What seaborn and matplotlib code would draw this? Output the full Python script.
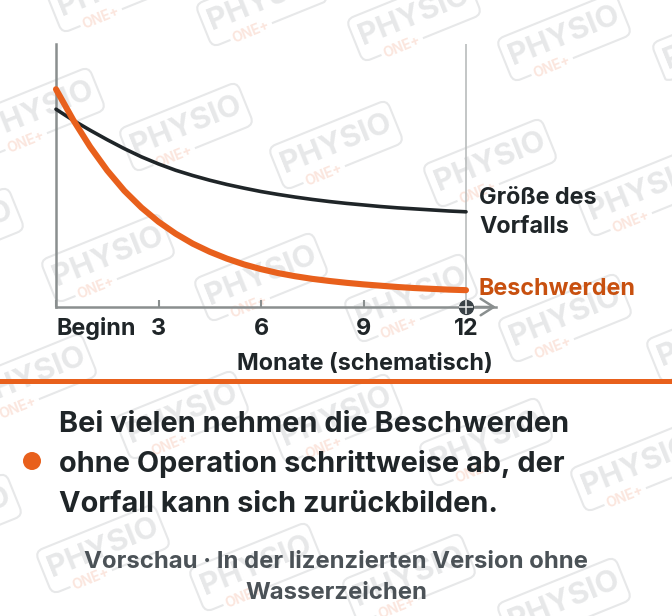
import matplotlib
matplotlib.use("Agg")
import matplotlib.pyplot as plt
import matplotlib.patches as patches
from matplotlib.transforms import Affine2D
import numpy as np
import pandas as pd
import seaborn as sns

W, H = 672, 616

# Curves (0 = baseline, 100 = top of the y axis)
months = [0, 0.5, 1, 1.5, 2, 2.5, 3, 3.5, 4, 4.5, 5, 5.5, 6, 6.5, 7, 7.5, 8, 8.5, 9, 9.5, 10, 10.5, 11, 11.5, 12]
beschwerden = [82.8, 71.2, 60.9, 51.9, 44.2, 37.8, 32.4, 27.9, 24.1, 21.0, 18.4, 16.2, 14.4, 12.9, 11.7, 10.7,
               9.9, 9.2, 8.6, 8.1, 7.6, 7.2, 6.9, 6.6, 6.4]
vorfall = [75.2, 71.0, 67.2, 63.6, 60.2, 57.1, 54.4, 52.0, 50.0, 48.2, 46.6, 45.2, 43.9, 42.8, 41.8, 40.9,
           40.1, 39.4, 38.8, 38.2, 37.7, 37.3, 36.9, 36.5, 36.2]
tick_months = [0, 3, 6, 9, 12]
tick_labels = ["Beginn", "3", "6", "9", "12"]

ORANGE = "#e8601c"
DARK = "#1f2528"
AXIS = "#8a8f8f"
STAMP = "#e7e8e9"

# watermark centres in pixels
stamps = [(113, -12), (263, 2), (414, 17), (564, 37), (719, 41),
          (38, 112), (186, 127), (336, 145), (490, 163), (643, 192),
          (-43, 232), (108, 258), (261, 277), (411, 298), (565, 318), (713, 338),
          (30, 378), (182, 415), (336, 418), (486, 442), (637, 467),
          (-45, 518), (103, 549), (256, 567), (409, 578), (564, 602)]
ANGLE = 22

sns.set_theme(style="white")
plt.rcParams["font.family"] = ["Inter", "DejaVu Sans"]

fig = plt.figure(figsize=(W / 100, H / 100), dpi=100)

# overlay in pixel coordinates for the watermarks and the layout parts
bg = fig.add_axes([0, 0, 1, 1])
bg.set_xlim(0, W)
bg.set_ylim(H, 0)
bg.axis("off")

cos_a, sin_a = np.cos(np.radians(ANGLE)), np.sin(np.radians(ANGLE))
for cx, cy in stamps:
    tr = Affine2D().rotate_deg_around(cx, cy, -ANGLE) + bg.transData
    box = patches.FancyBboxPatch((cx - 64, cy - 23), 128, 46, boxstyle="round,pad=0,rounding_size=8",
                                 fill=False, ec=STAMP, lw=1.5, transform=tr, zorder=0.5)
    bg.add_patch(box)
    bg.text(cx, cy - 1, "PHYSIO", fontsize=22, fontweight="bold", color=STAMP, ha="center", va="center",
            rotation=ANGLE, rotation_mode="anchor", zorder=0.6)
    # ONE+ sits on the lower edge, left of the middle
    ox = cx - 22 * cos_a + 23 * sin_a
    oy = cy + 22 * sin_a + 23 * cos_a
    bg.text(ox, oy, "ONE+", fontsize=10, fontweight="bold", color="#fbe6de", ha="center", va="center",
            rotation=ANGLE, rotation_mode="anchor", bbox=dict(fc="white", ec="none", pad=2), zorder=0.7)

# chart area: month 0 at x=56, month 12 at x=466, baseline y=307, axis top y=44
x_per_month = (466 - 56) / 12
x_right = (496 - 56) / x_per_month
ax = fig.add_axes([56 / W, 1 - 307 / H, (496 - 56) / W, (307 - 44) / H])
ax.patch.set_alpha(0)
ax.set_xlim(0, x_right)
ax.set_ylim(0, 100)

df = pd.DataFrame({"monat": months, "beschwerden": beschwerden, "vorfall": vorfall})
ax.axvline(12, color="#b9bcbc", lw=1.2, zorder=1)
sns.lineplot(data=df, x="monat", y="vorfall", color=DARK, lw=2.6, ax=ax, zorder=3, clip_on=False,
             solid_capstyle="round", solid_joinstyle="round")
sns.lineplot(data=df, x="monat", y="beschwerden", color=ORANGE, lw=4.4, ax=ax, zorder=4, clip_on=False,
             solid_capstyle="round", solid_joinstyle="round")

sns.despine(ax=ax, top=True, right=True)
ax.spines["left"].set_color(AXIS)
ax.spines["left"].set_linewidth(1.8)
ax.spines["bottom"].set_color(AXIS)
ax.spines["bottom"].set_linewidth(1.8)
ax.set_yticks([])
ax.set_xticks(tick_months[:-1])
ax.set_xticklabels([])
ax.tick_params(axis="x", direction="in", length=5, width=1.5, color=AXIS, bottom=True)
ax.set_xlabel("")
ax.set_ylabel("")
ax.annotate("", xy=(x_right, 0), xytext=(x_right - 0.6, 0), annotation_clip=False,
            arrowprops=dict(arrowstyle="->,head_length=0.55,head_width=0.35", color=AXIS, lw=1.8,
                            mutation_scale=17, shrinkA=0, shrinkB=0))
ax.plot([12], [0], "o", ms=10, color="#3a4247", clip_on=False, zorder=6)
ax.plot([12], [0], "+", ms=10, mew=1.2, color="#dfe1e1", clip_on=False, zorder=7)

# tick labels
for m, lab in zip(tick_months, tick_labels):
    px = 56 + m * x_per_month
    bg.text(px + 1 if m == 0 else px, 335, lab, fontsize=16.8, fontweight="bold", color=DARK,
            ha="left" if m == 0 else "center", va="baseline", zorder=10)
bg.text(365, 370, "Monate (schematisch)", fontsize=16.8, fontweight="bold", color=DARK, ha="center",
        va="baseline", zorder=10)

bg.text(479, 204, "Größe des", fontsize=16.8, fontweight="bold", color=DARK, va="baseline", zorder=10)
bg.text(479, 233, "Vorfalls", fontsize=16.8, fontweight="bold", color=DARK, va="baseline", zorder=10)
bg.text(479, 295, "Beschwerden", fontsize=16.8, fontweight="bold", color="#c8500f", va="baseline", zorder=10)

# divider, bullet and the text below it
bg.add_patch(patches.Rectangle((0, 378.5), W, 5.5, color=ORANGE, lw=0, zorder=5))
bg.add_patch(patches.Circle((32, 461), 9, color=ORANGE, lw=0, zorder=5))
for y, line in zip([432, 472, 512], ["Bei vielen nehmen die Beschwerden", "ohne Operation schrittweise ab, der",
                                     "Vorfall kann sich zurückbilden."]):
    bg.text(59, y, line, fontsize=20.8, fontweight="bold", color=DARK, va="baseline", zorder=10)
for y, line in zip([568, 599], ["Vorschau · In der lizenzierten Version ohne", "Wasserzeichen"]):
    bg.text(336, y, line, fontsize=17.2, fontweight="bold", color="#4b5257", ha="center", va="baseline", zorder=10)

fig.savefig("out.png", dpi=100)
